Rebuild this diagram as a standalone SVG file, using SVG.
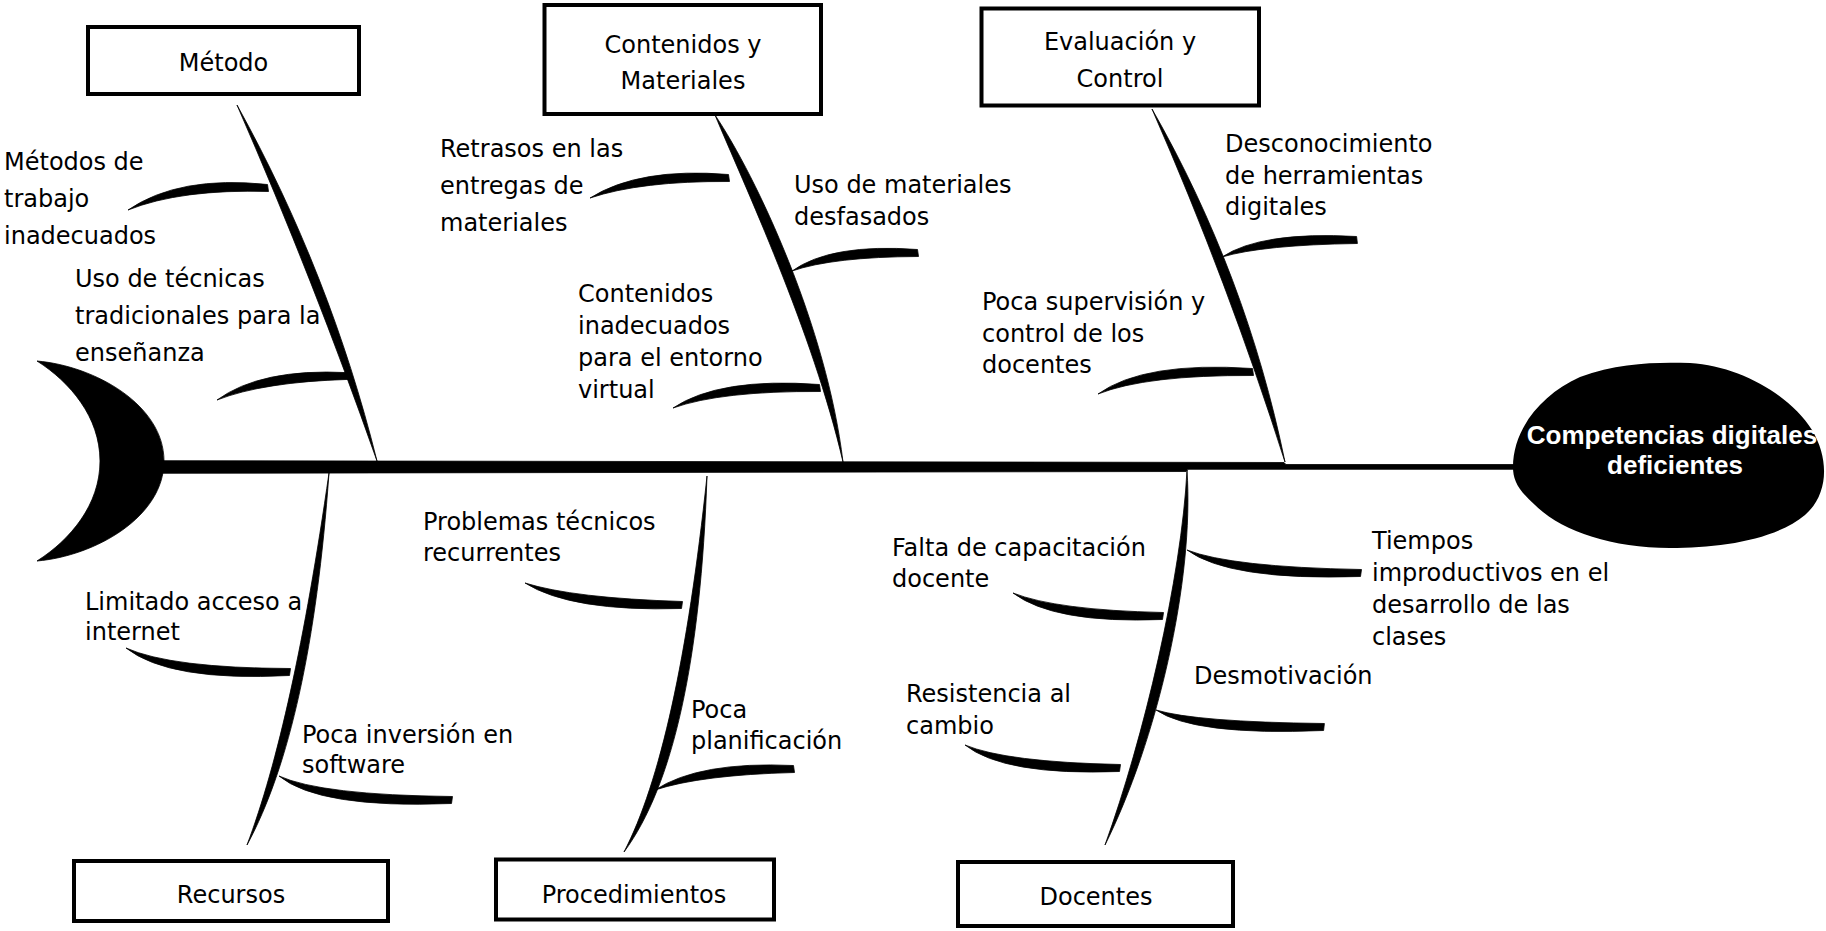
<svg xmlns="http://www.w3.org/2000/svg" width="1826" height="931" viewBox="0 0 1826 931">
<style>
.box{fill:#fff;stroke:#000;stroke-width:4}
.t{font-family:"DejaVu Sans",sans-serif;font-size:24px;fill:#000}
.c{text-anchor:middle}
.bone{fill:#000;stroke:#000;stroke-width:0.8;stroke-linejoin:round}
.head{font-family:"Liberation Sans",Arial,sans-serif;font-size:26px;font-weight:bold;fill:#fff;text-anchor:middle}
</style>
<rect width="1826" height="931" fill="#fff"/>

<g id="tail">
<path class="bone" d="M37,361 C95,366 164,405 164,461 C164,517 95,556 37,561 C70,540 100,505 100,461 C100,417 70,382 37,361 Z"/>
</g>

<g id="connectors">
<polygon class="bone" points="160,460.7 1284,462.5 1286,464.5 1516,464.5 1516,469.3 1188,469.3 1186,471.5 160,473.3"/>
<!-- spines -->
<path class="bone" d="M237,105 C299.3,217.5 345.9,336.1 377,461 C334.7,340.5 288.1,221.9 237,105 Z"/>
<path class="bone" d="M715,115 C756.9,177.5 826.9,327.5 843,462 C813.2,332.5 743.2,182.5 715,115 Z"/>
<path class="bone" d="M1152,109 C1215,219.6 1259.3,337.3 1285,462 C1246.9,342 1202.6,224.3 1152,109 Z"/>
<path class="bone" d="M329,473 C316.9,642.3 289.6,766.3 247,845 C277.8,763.7 305.1,639.7 329,473 Z"/>
<path class="bone" d="M707,476 C700.8,660.1 673.2,785.4 624,852 C660.2,782.6 687.8,657.3 707,476 Z"/>
<path class="bone" d="M1187,470 C1194.5,581.4 1156.5,741.4 1105,845 C1143.5,738.6 1181.5,578.6 1187,470 Z"/>
<!-- ribs -->
<path class="bone" d="M128,210 Q181.1,188.9 268.5,191.5 L267.5,184.5 Q178.9,175.1 128,210 Z"/>
<path class="bone" d="M217,400 Q263.3,381.9 348.6,379.4 L347.4,372.6 Q260.7,368.1 217,400 Z"/>
<path class="bone" d="M590,198 Q641,180.9 729.5,181.5 L728.5,174.5 Q639,167.1 590,198 Z"/>
<path class="bone" d="M673,408 Q720.9,390.9 820.5,391.5 L819.5,384.5 Q719.1,377.1 673,408 Z"/>
<path class="bone" d="M792,271 Q833,256.9 918.5,256.5 L917.5,249.5 Q831,243.1 792,271 Z"/>
<path class="bone" d="M1222,257 Q1262.9,244.9 1357.4,243.5 L1356.6,236.5 Q1261.1,231.1 1222,257 Z"/>
<path class="bone" d="M1098,394 Q1146,374.9 1253.5,375.5 L1252.5,368.5 Q1144,361.1 1098,394 Z"/>
<path class="bone" d="M126,648 Q169,681.9 289.5,675.5 L290.5,668.5 Q171,668.1 126,648 Z"/>
<path class="bone" d="M279,776 Q319,808.9 451.5,803.5 L452.5,796.5 Q321,795.1 279,776 Z"/>
<path class="bone" d="M525,583 Q571,611.9 681.5,608.5 L682.5,601.5 Q573,598.1 525,583 Z"/>
<path class="bone" d="M655,790 Q701,774.9 794.5,772.5 L793.5,765.5 Q699,761.1 655,790 Z"/>
<path class="bone" d="M1013,593 Q1053.9,623.9 1162.5,619.5 L1163.5,612.5 Q1056.1,610.1 1013,593 Z"/>
<path class="bone" d="M965,745 Q1004,775.9 1119.5,771.5 L1120.5,764.5 Q1006,762.1 965,745 Z"/>
<path class="bone" d="M1187,550 Q1229.1,580.9 1360.5,576.5 L1361.5,569.5 Q1230.9,567.1 1187,550 Z"/>
<path class="bone" d="M1156,710 Q1194.3,736 1323.6,730.5 L1324.4,723.5 Q1195.7,722 1156,710 Z"/>
</g>

<g id="head">
<path fill="#000" d="M1513,467 C1513,430 1540,395 1580,377 C1620,362 1660,362 1690,363 C1740,366 1790,395 1812,430 C1830,460 1828,495 1805,515 C1775,540 1720,548 1670,548 C1610,548 1560,530 1535,505 C1518,490 1513,480 1513,467 Z"/>
<text class="head" x="1672" y="444">Competencias digitales</text>
<text class="head" x="1675" y="474">deficientes</text>
</g>

<g id="cat-metodo">
<rect class="box" x="88" y="27" width="271" height="67"/>
<text class="t c" x="223.5" y="71">Método</text>
</g>
<g id="cat-contenidos">
<rect class="box" x="544.5" y="5" width="276.5" height="109"/>
<text class="t c" x="683" y="53">Contenidos y</text>
<text class="t c" x="683" y="89">Materiales</text>
</g>
<g id="cat-evaluacion">
<rect class="box" x="981.5" y="8.5" width="277.5" height="97"/>
<text class="t c" x="1120" y="50">Evaluación y</text>
<text class="t c" x="1120" y="87">Control</text>
</g>
<g id="cat-recursos">
<rect class="box" x="74" y="861" width="314" height="60"/>
<text class="t c" x="231" y="903">Recursos</text>
</g>
<g id="cat-procedimientos">
<rect class="box" x="496" y="859.5" width="278" height="60"/>
<text class="t c" x="634" y="903">Procedimientos</text>
</g>
<g id="cat-docentes">
<rect class="box" x="958" y="862" width="275" height="64"/>
<text class="t c" x="1096" y="905">Docentes</text>
</g>

<g id="cause-metodos-trabajo"><text class="t" x="4" y="170">Métodos de</text><text class="t" x="4" y="207">trabajo</text><text class="t" x="4" y="244">inadecuados</text></g>
<g id="cause-tecnicas"><text class="t" x="75" y="287">Uso de técnicas</text><text class="t" x="75" y="324">tradicionales para la</text><text class="t" x="75" y="361">enseñanza</text></g>
<g id="cause-retrasos"><text class="t" x="440" y="157">Retrasos en las</text><text class="t" x="440" y="194">entregas de</text><text class="t" x="440" y="231">materiales</text></g>
<g id="cause-contenidos-inadecuados"><text class="t" x="578" y="302">Contenidos</text><text class="t" x="578" y="334">inadecuados</text><text class="t" x="578" y="366">para el entorno</text><text class="t" x="578" y="398">virtual</text></g>
<g id="cause-materiales"><text class="t" x="794" y="193">Uso de materiales</text><text class="t" x="794" y="225">desfasados</text></g>
<g id="cause-desconocimiento"><text class="t" x="1225" y="152">Desconocimiento</text><text class="t" x="1225" y="184">de herramientas</text><text class="t" x="1225" y="215">digitales</text></g>
<g id="cause-supervision"><text class="t" x="982" y="310">Poca supervisión y</text><text class="t" x="982" y="342">control de los</text><text class="t" x="982" y="373">docentes</text></g>
<g id="cause-internet"><text class="t" x="85" y="610">Limitado acceso a</text><text class="t" x="85" y="640">internet</text></g>
<g id="cause-software"><text class="t" x="302" y="743">Poca inversión en</text><text class="t" x="302" y="773">software</text></g>
<g id="cause-problemas"><text class="t" x="423" y="530">Problemas técnicos</text><text class="t" x="423" y="561">recurrentes</text></g>
<g id="cause-planificacion"><text class="t" x="691" y="718">Poca</text><text class="t" x="691" y="749">planificación</text></g>
<g id="cause-capacitacion"><text class="t" x="892" y="556">Falta de capacitación</text><text class="t" x="892" y="587">docente</text></g>
<g id="cause-resistencia"><text class="t" x="906" y="702">Resistencia al</text><text class="t" x="906" y="734">cambio</text></g>
<g id="cause-tiempos"><text class="t" x="1372" y="549">Tiempos</text><text class="t" x="1372" y="581">improductivos en el</text><text class="t" x="1372" y="613">desarrollo de las</text><text class="t" x="1372" y="645">clases</text></g>
<g id="cause-desmotivacion"><text class="t" x="1194" y="684">Desmotivación</text></g>
</svg>
